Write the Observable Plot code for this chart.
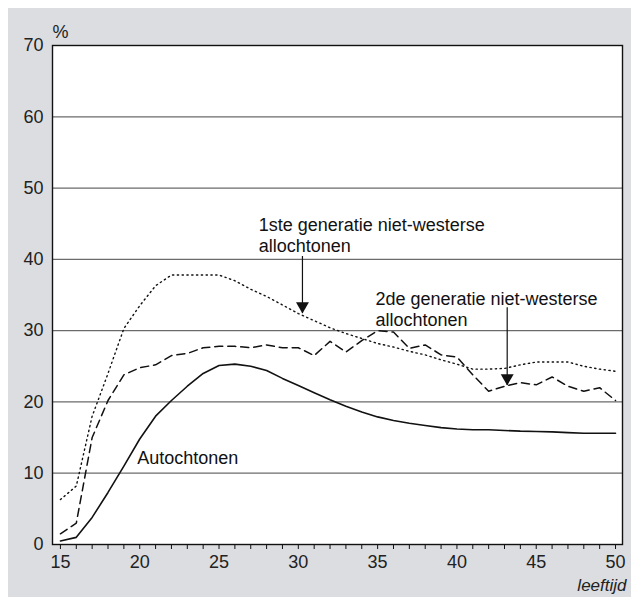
<!DOCTYPE html>
<html><head><meta charset="utf-8">
<script src="https://cdn.jsdelivr.net/npm/d3@7"></script>
<script src="https://cdn.jsdelivr.net/npm/@observablehq/plot@0.6"></script>
<style>
html,body{margin:0;padding:0;background:#fff;}
#wrap{position:absolute;left:8px;top:8px;width:623px;height:589px;background:#dcdde0;}
#wrap svg{display:block;}
</style></head><body><div id="wrap"></div>
<script>
const ages = [15,16,17,18,19,20,21,22,23,24,25,26,27,28,29,30,31,32,33,34,35,36,37,38,39,40,41,42,43,44,45,46,47,48,49,50];
const autochtonen = [0.5,1.0,3.8,7.3,11.0,14.8,18.0,20.2,22.2,24.0,25.1,25.3,25.0,24.4,23.3,22.3,21.3,20.3,19.4,18.6,17.9,17.4,17.0,16.7,16.4,16.2,16.1,16.1,16.0,15.9,15.85,15.8,15.7,15.6,15.6,15.6];
const eersteGeneratie = [6.3,8.2,18.0,24.0,30.3,33.5,36.3,37.8,37.8,37.8,37.8,37.0,35.8,34.8,33.6,32.4,31.4,30.4,29.6,28.9,28.2,27.7,27.1,26.6,25.9,25.3,24.6,24.6,24.7,25.2,25.6,25.6,25.6,25.0,24.6,24.3];
const tweedeGeneratie = [1.5,3.0,15.0,20.2,23.8,24.8,25.2,26.5,26.8,27.6,27.8,27.8,27.6,28.0,27.6,27.6,26.5,28.5,27.0,28.6,30.0,29.8,27.5,28.0,26.6,26.3,23.8,21.5,22.2,22.7,22.4,23.5,22.2,21.5,22.0,20.2];
const yTicks = [0,10,20,30,40,50,60,70];
const gridValues = [10,20,30,40,50,60];
const xLabelTicks = [15,20,25,30,35,40,45,50];
const labelTexts = ["1ste generatie niet-westerse\nallochtonen", "2de generatie niet-westerse\nallochtonen", "Autochtonen"];
const labelX = [27.5, 34.86, 19.84];
const labelY = [41.0, 30.6, 11.3];
const arrowX = [30.26, 43.17];
const arrowFrom = [40.4, 33.2];
const arrowTip = [32.4, 22.3];

const rows = ages.map((a, i) => ({age: a, auto: autochtonen[i], g1: eersteGeneratie[i], g2: tweedeGeneratie[i]}));
const labels = labelTexts.map((t, i) => ({text: t, x: labelX[i], y: labelY[i]}));
const arrows = arrowX.map((x, i) => ({x, y1: arrowFrom[i], y2: arrowTip[i]}));

const font = "'Liberation Sans', Arial, Helvetica, sans-serif";
const ink = "#111";
const chart = Plot.plot({
  width: 623, height: 589,
  marginLeft: 44, marginTop: 37, marginRight: 9, marginBottom: 53,
  style: {background: "transparent", fontFamily: font, fontSize: "18px", color: "#222", overflow: "visible"},
  x: {domain: [14.5, 50.44]},
  y: {domain: [0, 70]},
  marks: [
    Plot.frame({fill: "white", stroke: null}),
    Plot.ruleY(gridValues, {stroke: "#6b6b6b", strokeWidth: 1.2}),
    Plot.line(rows, {x: "age", y: "g1", stroke: ink, strokeWidth: 1.4, strokeDasharray: "1.3,3.5"}),
    Plot.line(rows, {x: "age", y: "g2", stroke: ink, strokeWidth: 1.5, strokeDasharray: "8,5"}),
    Plot.line(rows, {x: "age", y: "auto", stroke: ink, strokeWidth: 1.6}),
    Plot.ruleX(arrows, {x: "x", y1: "y1", y2: "y2", stroke: ink, strokeWidth: 1.2}),
    Plot.dot(arrows, {x: "x", y: "y2", symbol: "triangle", r: 4.8, rotate: 180, fill: ink, stroke: null, dy: -7.5}),
    Plot.text(labels, {x: "x", y: "y", text: "text", textAnchor: "start", lineAnchor: "bottom", lineHeight: 1.2, fontSize: 18, fill: ink}),
    Plot.frame({stroke: ink, strokeWidth: 1.4}),
    Plot.axisY({ticks: yTicks, tickSize: 0, tickPadding: 9, label: null, fontSize: 18, fill: "#222"}),
    Plot.axisX({ticks: ages, tickSize: 5, tickFormat: () => "", label: null, stroke: ink}),
    Plot.axisX({ticks: xLabelTicks, tickSize: 0, tickPadding: 11, label: null, fontSize: 18, fill: "#222"}),
    Plot.text(["%"], {text: d => d, frameAnchor: "top-left", textAnchor: "start", lineAnchor: "bottom", dy: -8, fontSize: 18, fill: "#222"}),
    Plot.text(["leeftijd"], {text: d => d, frameAnchor: "bottom-right", textAnchor: "end", lineAnchor: "bottom", dx: 4, dy: 46, fontSize: 17, fontStyle: "italic", fill: "#222"})
  ]
});
document.getElementById("wrap").appendChild(chart);
</script></body></html>
